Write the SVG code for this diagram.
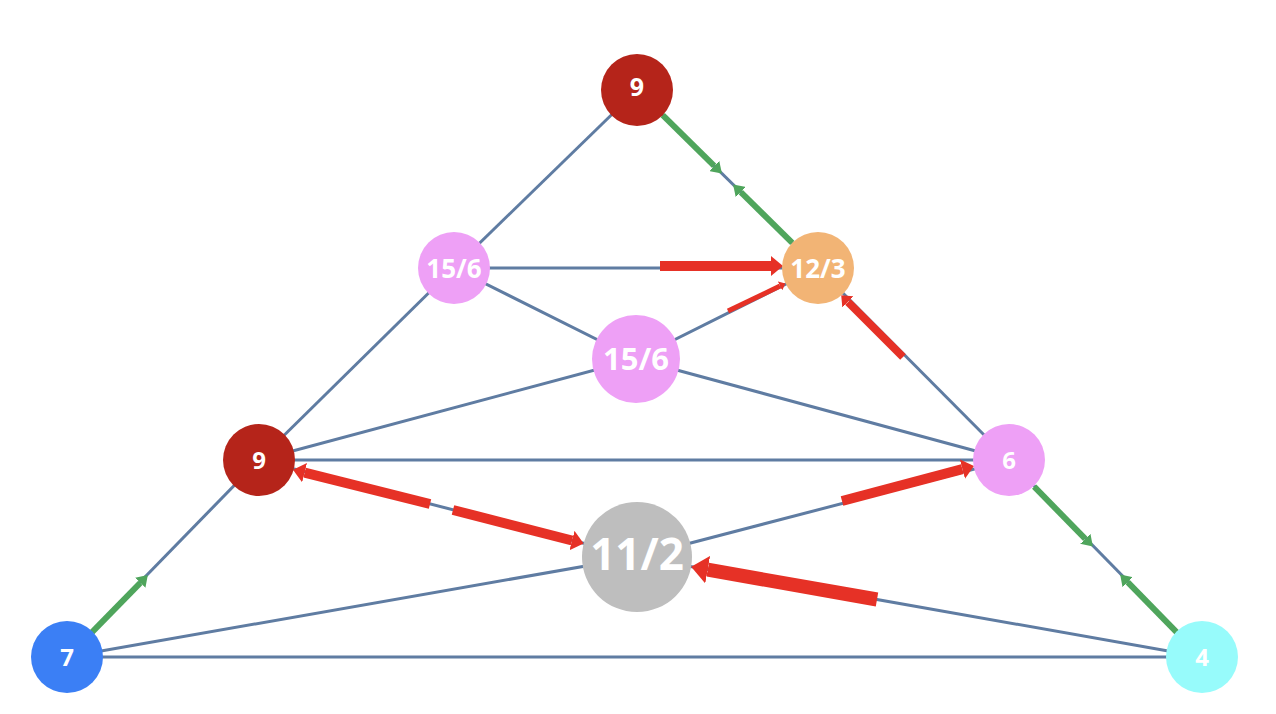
<svg xmlns="http://www.w3.org/2000/svg" width="1276" height="714" viewBox="0 0 1276 714">
<style>
.e{stroke:#5f7ca2;stroke-width:3;fill:none}
.r{stroke:#e63126;fill:none}
.g{stroke:#4fa55c;stroke-width:6;fill:none}
.t{fill:#fff;font-family:"Open Sans","Noto Sans","Liberation Sans",sans-serif;font-weight:bold;text-anchor:middle}
</style>
<defs>
<marker id="rh" viewBox="0 0 12 20" refX="0" refY="10" markerWidth="1.2" markerHeight="2" markerUnits="strokeWidth" orient="auto" preserveAspectRatio="none"><path d="M0,0 L12,10 L0,20 z" fill="#e63126"/></marker>
<marker id="gh" viewBox="0 0 11 14" refX="0" refY="7" markerWidth="1.8" markerHeight="2.4" markerUnits="strokeWidth" orient="auto" preserveAspectRatio="none"><path d="M0,0 L11,7 L0,14 z" fill="#4fa55c"/></marker>
</defs>
<rect width="1276" height="714" fill="#fff"/>
<g id="connectors">
<line class="e" x1="637" y1="90" x2="454" y2="268"/>
<line class="e" x1="637" y1="90" x2="818" y2="268"/>
<line class="e" x1="454" y1="268" x2="818" y2="268"/>
<line class="e" x1="454" y1="268" x2="636" y2="359"/>
<line class="e" x1="636" y1="359" x2="818" y2="268"/>
<line class="e" x1="454" y1="268" x2="259" y2="460"/>
<line class="e" x1="818" y1="268" x2="1009" y2="460"/>
<line class="e" x1="636" y1="359" x2="259" y2="460"/>
<line class="e" x1="636" y1="359" x2="1009" y2="460"/>
<line class="e" x1="259" y1="460" x2="1009" y2="460"/>
<line class="e" x1="259" y1="460" x2="637" y2="557"/>
<line class="e" x1="259" y1="460" x2="67" y2="657"/>
<line class="e" x1="637" y1="557" x2="1009" y2="460"/>
<line class="e" x1="637" y1="557" x2="67" y2="657"/>
<line class="e" x1="637" y1="557" x2="1202" y2="657"/>
<line class="e" x1="67" y1="657" x2="1202" y2="657"/>
<line class="e" x1="1009" y1="460" x2="1202" y2="657"/>
<line class="r" stroke-width="10" x1="660" y1="266" x2="771" y2="266" marker-end="url(#rh)"/>
<line class="r" stroke-width="5" x1="728" y1="311" x2="780" y2="286" marker-end="url(#rh)"/>
<line class="r" stroke-width="8" x1="903" y1="357" x2="848" y2="302" marker-end="url(#rh)"/>
<line class="r" stroke-width="10" x1="430" y1="504" x2="304.6" y2="472.7" marker-end="url(#rh)"/>
<line class="r" stroke-width="10" x1="453" y1="510" x2="572" y2="540.5" marker-end="url(#rh)"/>
<line class="r" stroke-width="10" x1="842" y1="501" x2="962.4" y2="469.1" marker-end="url(#rh)"/>
<line class="r" stroke-width="14" x1="877" y1="599.5" x2="707.7" y2="569.7" marker-end="url(#rh)"/>
<line class="g" x1="662.7" y1="115.2" x2="714.2" y2="165.9" marker-end="url(#gh)"/>
<line class="g" x1="792.3" y1="242.8" x2="740.8" y2="192.1" marker-end="url(#gh)"/>
<line class="g" x1="1034.2" y1="486.7" x2="1085.3" y2="538.8" marker-end="url(#gh)"/>
<line class="g" x1="1176.8" y1="632.3" x2="1127.7" y2="582.2" marker-end="url(#gh)"/>
<line class="g" x1="92.1" y1="632.2" x2="140.3" y2="582.8" marker-end="url(#gh)"/>
</g>
<g id="n9top"><circle cx="637" cy="90" r="36" fill="#b5241a"/><text class="t" x="637" y="96" font-size="25">9</text></g>
<g id="n12_3"><circle cx="818" cy="268" r="36" fill="#f2b475"/><text class="t" x="818" y="278" font-size="26">12/3</text></g>
<g id="n15_6a"><circle cx="454" cy="268" r="36" fill="#eea0f6"/><text class="t" x="454" y="278" font-size="26">15/6</text></g>
<g id="n15_6b"><circle cx="636" cy="359" r="44" fill="#eea0f6"/><text class="t" x="636" y="370" font-size="31">15/6</text></g>
<g id="n9left"><circle cx="259" cy="460" r="36" fill="#b5241a"/><text class="t" x="259" y="469" font-size="24">9</text></g>
<g id="n6"><circle cx="1009" cy="460" r="36" fill="#eea0f6"/><text class="t" x="1009" y="469" font-size="24">6</text></g>
<g id="n11_2"><circle cx="637" cy="557" r="55" fill="#bebebe"/><text class="t" x="637" y="570" font-size="44">11/2</text></g>
<g id="n7"><circle cx="67" cy="657" r="36" fill="#3b7ff5"/><text class="t" x="67" y="666" font-size="24">7</text></g>
<g id="n4"><circle cx="1202" cy="657" r="36" fill="#97fbfb"/><text class="t" x="1202" y="666" font-size="24">4</text></g>
</svg>
